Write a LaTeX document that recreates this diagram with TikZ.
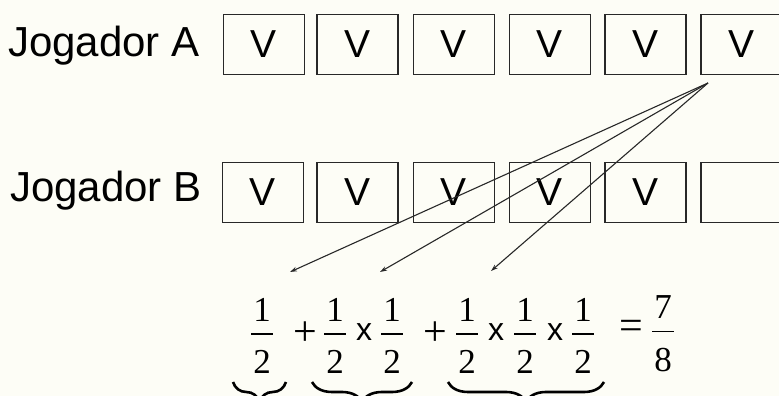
\documentclass[tikz,border=0pt]{standalone}
\usepackage{fontspec}
\setmainfont{Liberation Serif}
\newfontfamily\arialfont{Liberation Sans}
\usetikzlibrary{arrows.meta,decorations.pathreplacing}
\definecolor{inkgray}{RGB}{40,40,40}
\definecolor{paper}{RGB}{253,253,246}
\tikzset{
  cell/.style ={draw=inkgray, line width=1.5pt, minimum width=81pt, minimum height=60pt,
                inner sep=0pt, font=\arialfont\fontsize{39}{39}\selectfont},
  who/.style  ={anchor=base west, inner sep=0pt, font=\arialfont\fontsize{42}{42}\selectfont},
  fr/.style   ={inner sep=0pt, font=\fontsize{35}{36}\selectfont},
  op/.style   ={inner sep=0pt, font=\fontsize{42}{42}\selectfont},
  tms/.style  ={inner sep=0pt, font=\arialfont\fontsize{32}{32}\selectfont},
  ar/.style   ={-{Stealth[length=7pt,width=4.5pt]}, draw=inkgray, line width=1.1pt},
  brc/.style  ={decorate, decoration={brace,mirror,amplitude=20pt}, line width=2.6pt},
}
% stacked fraction: numerator, bar, denominator
\newcommand{\frc}[2]{\vbox{\offinterlineskip\halign{\hfil##\hfil\cr
  #1\cr\noalign{\kern12pt}\rule{22pt}{1.3pt}\cr\noalign{\kern16pt}#2\cr}}}

\begin{document}
\begin{tikzpicture}[x=1pt,y=1pt]
\useasboundingbox (0,0) rectangle (779,396);
\clip (0,0) rectangle (779,396);
\fill[paper] (0,0) rectangle (779,396);
% players
\node[who] (ja) at (8,339) {Jogador A};
\node[who] (jb) at (10,194) {Jogador B};
% row A
\node[cell] (a1) at (264,351.5) {V};
\node[cell] (a2) at (357.5,351.5) {V};
\node[cell] (a3) at (454,351.5) {V};
\node[cell] (a4) at (550,351.5) {V};
\node[cell] (a5) at (645.5,351.5) {V};
\node[cell] (a6) at (741.5,351.5) {V};
% row B
\node[cell] (b1) at (263,203.5) {V};
\node[cell] (b2) at (357.5,203.5) {V};
\node[cell] (b3) at (454,203.5) {V};
\node[cell] (b4) at (550,203.5) {V};
\node[cell] (b5) at (645.5,203.5) {V};
\node[cell] (b6) at (741.5,203.5) {};
% sum
\node[fr] (f1) at (262,60) {\frc{1}{2}};
\node[op] (p1) at (305,62.5) {+};
\node[fr] (f2) at (335,60) {\frc{1}{2}};
\node[tms] (m1) at (364,64) {x};
\node[fr] (f3) at (392,60) {\frc{1}{2}};
\node[op] (p2) at (435,62.5) {+};
\node[fr] (f4) at (467,60) {\frc{1}{2}};
\node[tms] (m2) at (496,64) {x};
\node[fr] (f5) at (525,60) {\frc{1}{2}};
\node[tms] (m3) at (555,64) {x};
\node[fr] (f6) at (583,60) {\frc{1}{2}};
\node[op] (eq) at (631,66) {=};
\node[fr] (res) at (663,62) {\frc{7}{8}};
% arrows from the last V of A
\coordinate (src) at (708,313);
\coordinate (t1) at (290,124);
\coordinate (t2) at (380,124);
\coordinate (t3) at (491,125);
\draw[ar] (src) -- (t1);
\draw[ar] (src) -- (t2);
\draw[ar] (src) -- (t3);
% braces
\draw[brc] (233,14) -- (286,14);
\draw[brc] (312,14) -- (412,14);
\draw[brc] (448,14) -- (604,14);
\end{tikzpicture}
\end{document}
